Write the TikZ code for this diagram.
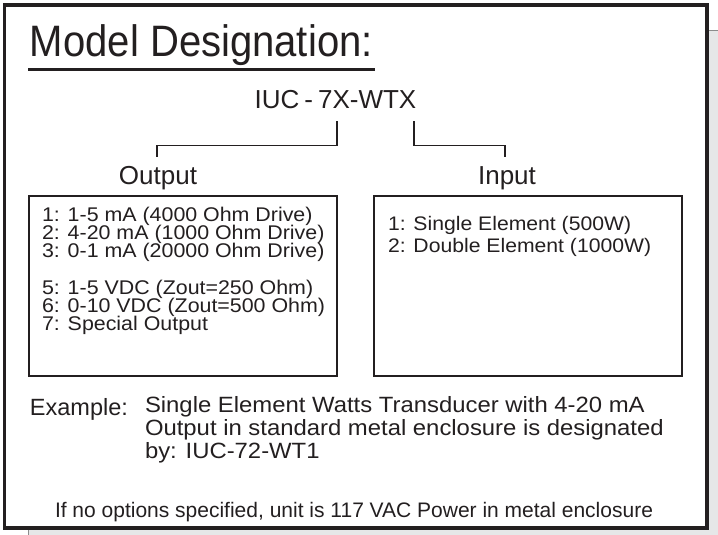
\documentclass[tikz,border=0pt]{standalone}
\usepackage{fontspec}
\setmainfont{Liberation Sans}
\newfontfamily\wideft{Liberation Sans}[FakeStretch=1.08]
\newfontfamily\narrowft{Liberation Sans}[FakeStretch=0.91]
\definecolor{ink}{HTML}{231F20}
\definecolor{pagegrey}{HTML}{E6E7E8}
\definecolor{edgegrey}{HTML}{8C8C8C}
\begin{document}
\begin{tikzpicture}[x=1pt,y=-1pt,
  txt/.style={inner sep=0pt, outer sep=0pt, text=ink, anchor=base west},
  ctxt/.style={inner sep=0pt, outer sep=0pt, text=ink, anchor=base},
  thinline/.style={draw=ink, line width=1.5pt},
  listbox/.style={draw=ink, line width=1.5pt, fill=white},
  listfont/.style={font=\wideft\fontsize{19.8}{19.8}\selectfont, text height=14pt, text depth=3.5pt},
  inputfont/.style={font=\wideft\fontsize{19.6}{19.6}\selectfont, text height=14pt, text depth=3.5pt},
  examplefont/.style={font=\wideft\fontsize{22.1}{22.1}\selectfont, text height=16.5pt, text depth=4.5pt}]
\useasboundingbox (0,0) rectangle (718,535);
% page behind the frame
\begin{scope}
  \clip (0,0) rectangle (718,535);
  \draw[fill=pagegrey, draw=edgegrey, line width=1.5pt] (28.5,30.5) rectangle (760,580);
\end{scope}
% frame
\draw[draw=ink, fill=white, line width=3.8pt] (4.5,5) rectangle (706.8,528);
% title
\node[txt, font=\narrowft\fontsize{44}{44}\selectfont] (title) at (30,57) {Model Designation:};
\draw[draw=ink, line width=3pt] (28,69.5) -- (375,69.5);
% model code
\node[ctxt, font=\fontsize{26}{26}\selectfont] (code) at (335.5,108) {IUC\kern5pt-\kern5pt7X-WTX};
% labels
\node[ctxt, font=\fontsize{26}{26}\selectfont] (outlab) at (158,184) {Output};
\node[ctxt, font=\fontsize{26}{26}\selectfont] (inlab) at (507,184) {Input};
% bracket coordinates
\coordinate (lbtop) at (337,121);
\coordinate (lbend) at (157,157);
\coordinate (rbtop) at (414,121);
\coordinate (rbend) at (505,157);
\draw[thinline] (lbtop) -- ++(0,24.5) -| (lbend);
\draw[thinline] (rbtop) -- ++(0,24.5) -| (rbend);
% boxes
\draw[listbox] (29,196) rectangle (337,376);
\draw[listbox] (374,196) rectangle (682,376);
% output list
\node[txt, listfont] (o1) at (42,221) {1: 1-5 mA (4000 Ohm Drive)};
\node[txt, listfont] (o2) at (42,239.3) {2: 4-20 mA (1000 Ohm Drive)};
\node[txt, listfont] (o3) at (42,257.6) {3: 0-1 mA (20000 Ohm Drive)};
\node[txt, listfont] (o5) at (42,294.2) {5: 1-5 VDC (Zout=250 Ohm)};
\node[txt, listfont] (o6) at (42,312.5) {6: 0-10 VDC (Zout=500 Ohm)};
\node[txt, listfont] (o7) at (42,330.8) {7: Special Output};
% input list
\node[txt, inputfont] (i1) at (388,230) {1: Single Element (500W)};
\node[txt, inputfont] (i2) at (388,252) {2: Double Element (1000W)};
% example
\node[txt, font=\fontsize{23.5}{23.5}\selectfont] (exlab) at (30,415) {Example:};
\node[txt, examplefont] (ex1) at (145,412) {Single Element Watts Transducer with 4-20 mA};
\node[txt, examplefont] (ex2) at (145,435) {Output in standard metal enclosure is designated};
\node[txt, examplefont] (ex3) at (145,458) {by: IUC-72-WT1};
% footer
\node[txt, font=\fontsize{21}{21}\selectfont] (foot) at (55,517) {If no options specified, unit is 117 VAC Power in metal enclosure};
\end{tikzpicture}
\end{document}
